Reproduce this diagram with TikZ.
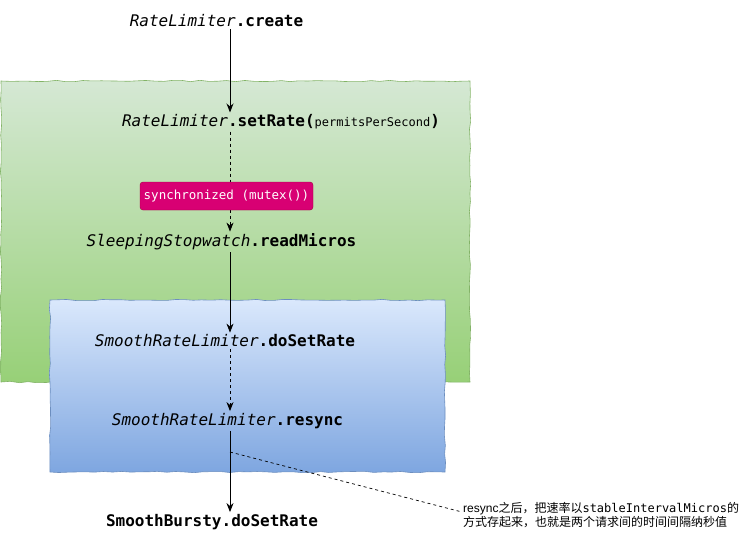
\documentclass[tikz,border=0pt]{standalone}
\usepackage{fontspec}
\setmainfont{Liberation Sans}
\setmonofont{DejaVu Sans Mono}
\newfontfamily\cjk{Noto Sans CJK SC}
\usetikzlibrary{arrows.meta,decorations.pathmorphing}
\definecolor{gtop}{HTML}{D5E8D4}
\definecolor{gbot}{HTML}{97D077}
\definecolor{gline}{HTML}{82B366}
\definecolor{btop}{HTML}{DAE8FC}
\definecolor{bbot}{HTML}{7EA6E0}
\definecolor{bline}{HTML}{6C8EBF}
\definecolor{pinkfill}{HTML}{D80073}
\definecolor{pinkline}{HTML}{A50040}
\tikzset{
  sketch/.style={decorate,decoration={random steps,segment length=9pt,amplitude=0.7pt}},
  method/.style={font=\ttfamily\fontsize{16}{19}\selectfont,inner sep=2pt},
  flow/.style={-{Stealth[length=9pt,width=7pt]},line width=0.9pt},
  dflow/.style={flow,dash pattern=on 3pt off 3pt},
  notetext/.style={font=\fontsize{12}{14}\selectfont,align=left,inner sep=1pt,anchor=west},
  tag/.style={fill=pinkfill,draw=pinkline,rounded corners=3pt,text=white,
    font=\ttfamily\fontsize{12.5}{14}\selectfont,minimum width=173pt,minimum height=28pt,inner sep=2pt},
}
\pgfmathsetseed{7}
\begin{document}
\begin{tikzpicture}[x=1pt,y=-1pt]
\useasboundingbox (0,0) rectangle (741,547);
% containers
\path[sketch,top color=gtop,bottom color=gbot,draw=gline,line width=0.6pt]
  (1,81) rectangle (470,382);
\path[sketch,top color=btop,bottom color=bbot,draw=bline,line width=0.6pt]
  (50,300) rectangle (445,472);
% axis of the call chain
\coordinate (ax) at (230,0);
% nodes
\node[method] (create) at (216.5,21) {\textit{RateLimiter}\textbf{.create}};
\node[method] (setrate) at (281,122) {\textit{RateLimiter}\textbf{.setRate(}{\fontsize{12}{14}\selectfont permitsPerSecond}\textbf{)}};
\node[method] (read) at (221.5,242) {\textit{SleepingStopwatch}\textbf{.readMicros}};
\node[method] (dosetrate) at (225,341) {\textit{SmoothRateLimiter}\textbf{.doSetRate}};
\node[method] (resync) at (227.5,421) {\textit{SmoothRateLimiter}\textbf{.resync}};
\node[method] (bursty) at (212,522) {\textbf{SmoothBursty.doSetRate}};
% connectors
\draw[flow] (create.south -| ax) -- (setrate.north -| ax);
\draw[dflow] (setrate.south -| ax) -- (read.north -| ax);
\node[tag] (sync) at (226.5,196) {synchronized (mutex())};
\draw[flow] (read.south -| ax) -- (dosetrate.north -| ax);
\draw[dflow] (dosetrate.south -| ax) -- (resync.north -| ax);
\draw[flow] (resync.south -| ax) -- (bursty.north -| ax);
% note
\node[notetext] (note) at (462,515) {resync{\cjk 之后，把速率以}\texttt{stableIntervalMicros}{\cjk 的}\\{\cjk 方式存起来，也就是两个请求间的时间间隔纳秒值}};
\coordinate (branch) at (230,452);
\draw[line width=0.7pt,dash pattern=on 3pt off 3pt] (branch) -- ([yshift=3pt]note.west);
\end{tikzpicture}
\end{document}
